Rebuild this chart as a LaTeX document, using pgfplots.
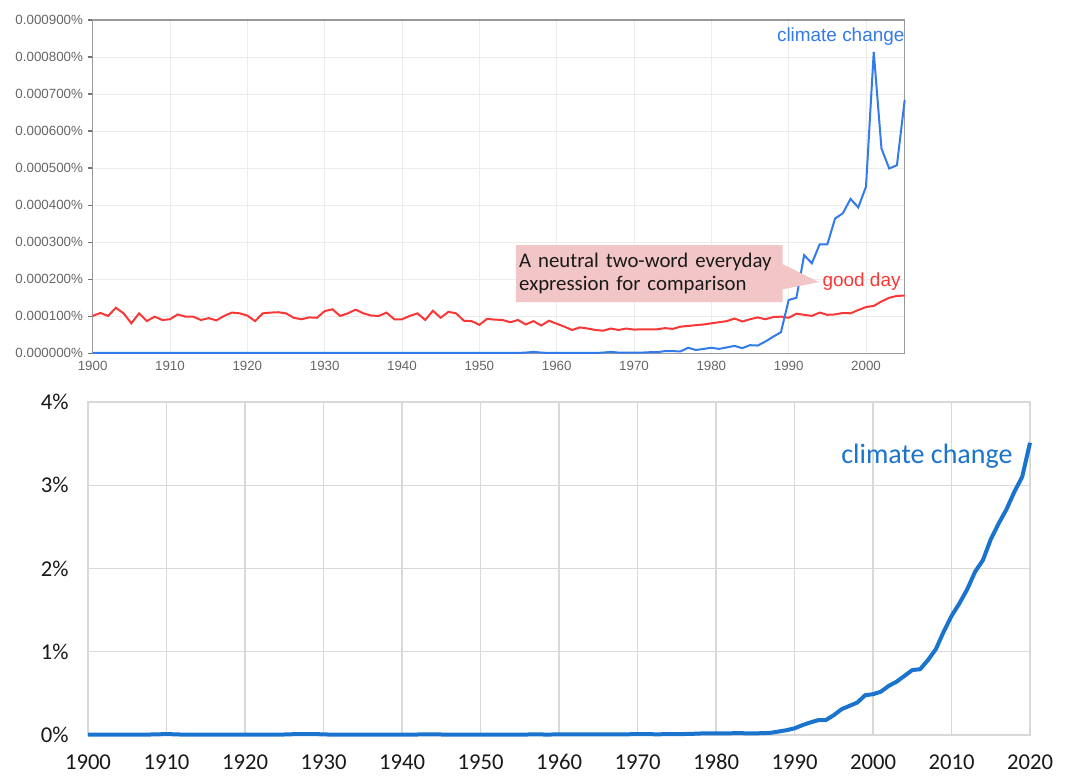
\documentclass[border=0pt]{standalone}
\usepackage{pgfplots}
\pgfplotsset{compat=1.18}
\usepackage{fontspec}
\setmainfont{Carlito}
\newfontfamily\arialf{Liberation Sans}
\usetikzlibrary{shapes.callouts}
\definecolor{ngblue}{RGB}{51,122,235}
\definecolor{ngred}{RGB}{250,55,55}
\definecolor{ngtick}{RGB}{102,102,102}
\definecolor{nggrid}{RGB}{236,236,236}
\definecolor{callpink}{RGB}{242,198,198}
\definecolor{xlblue}{RGB}{26,115,204}
\definecolor{xlgrid}{RGB}{217,217,217}

\pgfplotstableread{
year gd cc
1900 101 1
1901 109 1
1902 101 1
1903 123 1
1904 108 1
1905 81 1
1906 108 1
1907 87 1
1908 99 1
1909 90 1
1910 92 1
1911 105 1
1912 99 1
1913 99 1
1914 90 1
1915 95 1
1916 89 1
1917 101 1
1918 110 1
1919 108 1
1920 102 1
1921 87 1
1922 108 1
1923 110 1
1924 111 1
1925 108 1
1926 96 1
1927 92 1
1928 97 1
1929 96 1
1930 114 1
1931 119 1
1932 101 1
1933 108 1
1934 118 1
1935 108 1
1936 102 1
1937 101 1
1938 110 1
1939 92 1
1940 92 1
1941 101 1
1942 108 1
1943 90 1
1944 115 1
1945 96 1
1946 112 1
1947 108 1
1948 88 1
1949 87 1
1950 77 1
1951 93 1
1952 91 1
1953 90 1
1954 84 1
1955 90 1
1956 78 2
1957 87 4
1958 75 2
1959 88 1
1960 80 1
1961 72 1
1962 63 1
1963 70 1
1964 67 1
1965 63 1
1966 61 2
1967 67 4
1968 63 2
1969 67 2
1970 64 2
1971 65 2
1972 65 3
1973 65 3
1974 68 6
1975 66 6
1976 72 5
1977 74 15
1978 76 9
1979 78 12
1980 81 15
1981 84 12
1982 87 16
1983 94 20
1984 86 14
1985 92 22
1986 97 21
1987 92 32
1988 98 45
1989 99 57
1990 96 144
1991 107 150
1992 104 265
1993 101 243
1994 110 294
1995 104 294
1996 105 364
1997 109 378
1998 108 417
1999 117 394
2000 125 450
2001 128 814
2002 140 553
2003 150 499
2004 155 508
2005 156 684
}\ngramdata

\pgfplotstableread{
year v
1900 0.005
1901 0.005
1902 0.005
1903 0.005
1904 0.005
1905 0.005
1906 0.005
1907 0.005
1908 0.006
1909 0.008
1910 0.012
1911 0.008
1912 0.005
1913 0.005
1914 0.005
1915 0.005
1916 0.005
1917 0.005
1918 0.005
1919 0.005
1920 0.005
1921 0.005
1922 0.005
1923 0.005
1924 0.005
1925 0.006
1926 0.009
1927 0.011
1928 0.010
1929 0.011
1930 0.007
1931 0.005
1932 0.005
1933 0.005
1934 0.005
1935 0.005
1936 0.005
1937 0.005
1938 0.005
1939 0.005
1940 0.005
1941 0.005
1942 0.006
1943 0.007
1944 0.009
1945 0.006
1946 0.005
1947 0.005
1948 0.005
1949 0.005
1950 0.005
1951 0.005
1952 0.005
1953 0.005
1954 0.005
1955 0.005
1956 0.006
1957 0.007
1958 0.006
1959 0.006
1960 0.007
1961 0.007
1962 0.007
1963 0.007
1964 0.007
1965 0.008
1966 0.008
1967 0.009
1968 0.009
1969 0.009
1970 0.010
1971 0.011
1972 0.009
1973 0.009
1974 0.010
1975 0.011
1976 0.012
1977 0.014
1978 0.018
1979 0.020
1980 0.020
1981 0.020
1982 0.021
1983 0.022
1984 0.020
1985 0.020
1986 0.022
1987 0.027
1988 0.042
1989 0.058
1990 0.080
1991 0.118
1992 0.150
1993 0.178
1994 0.180
1995 0.238
1996 0.310
1997 0.350
1998 0.390
1999 0.478
2000 0.490
2001 0.520
2002 0.590
2003 0.640
2004 0.710
2005 0.780
2006 0.790
2007 0.900
2008 1.030
2009 1.240
2010 1.430
2011 1.580
2012 1.750
2013 1.960
2014 2.100
2015 2.350
2016 2.540
2017 2.710
2018 2.920
2019 3.100
2020 3.510
}\exceldata

\begin{document}
\begin{tikzpicture}[x=1pt,y=1pt]
\path[use as bounding box] (0,0) rectangle (801,582);
% ---------------- top (Ngram-style) chart ----------------
\begin{axis}[
  at={(69.5pt,317pt)}, anchor=south west,
  scale only axis, width=609pt, height=250pt,
  xmin=1900, xmax=2005, ymin=0, ymax=900,
  xtick={1900,1910,...,2000},
  ytick={0,100,...,900},
  yticklabels={0.000000\%,0.000100\%,0.000200\%,0.000300\%,0.000400\%,0.000500\%,0.000600\%,0.000700\%,0.000800\%,0.000900\%},
  grid=major, grid style={nggrid, line width=0.75pt},
  axis line style={draw=black!40, line width=1.2pt},
  tick align=outside,
  major tick length=3.75pt,
  xtick pos=bottom, ytick pos=left,
  xtick style={draw=none},
  ytick style={draw=black!55, line width=1pt},
  ticklabel style={font=\arialf\fontsize{10}{12}\selectfont, text=ngtick},
  xticklabel style={yshift=1.5pt},
  /pgf/number format/assume math mode=true,
  /pgf/number format/1000 sep={},
  clip=false,
]
\addplot[ngred, line width=1.5pt] table[x=year, y=gd] {\ngramdata};
\addplot[ngblue, line width=1.5pt] table[x=year, y=cc] {\ngramdata};
\node[anchor=east, inner sep=0pt, text=ngblue, font=\arialf\fontsize{14.2}{16}\selectfont] at (axis cs:2005,854) {climate change};
\node[anchor=east, inner sep=0pt, text=ngred, font=\arialf\fontsize{14.2}{16}\selectfont] at (axis cs:2004.5,192.5) {good day};
\node[rectangle callout, fill=callpink, draw=none,
  callout absolute pointer={(axis cs:1993.9,192.5)},
  callout pointer width=19pt,
  minimum width=200pt, minimum height=42.75pt,
  inner xsep=2.5pt, inner ysep=1pt, text width=195pt, align=left,
  font=\fontsize{15.6}{17.3}\selectfont, text=black!90, anchor=center]
  at (axis cs:1971.97,215.4) {A neutral two-word everyday\\expression for comparison};
\end{axis}
% ---------------- bottom (Excel-style) chart ----------------
\begin{axis}[
  at={(66pt,30.75pt)}, anchor=south west,
  scale only axis, width=706.5pt, height=249.75pt,
  xmin=1900, xmax=2020, ymin=0, ymax=4,
  xtick={1900,1910,...,2020},
  ytick={0,1,2,3,4},
  yticklabels={0\%,1\%,2\%,3\%,4\%},
  grid=major, grid style={xlgrid, line width=1.1pt},
  axis line style={draw=xlgrid, line width=1.1pt},
  major tick length=0pt,
  ticklabel style={font=\fontsize{17}{20}\selectfont, text=black!90},
  xticklabel style={yshift=-11pt},
  yticklabel style={xshift=-11pt},
  /pgf/number format/assume math mode=true,
  /pgf/number format/1000 sep={},
  clip=false,
]
\addplot[xlblue, line width=3pt, line join=round] table[x=year, y=v] {\exceldata};
\node[anchor=east, inner sep=0pt, text=xlblue, font=\fontsize{21}{25}\selectfont] at (axis cs:2017.8,3.35) {climate change};
\end{axis}
\end{tikzpicture}
\end{document}
